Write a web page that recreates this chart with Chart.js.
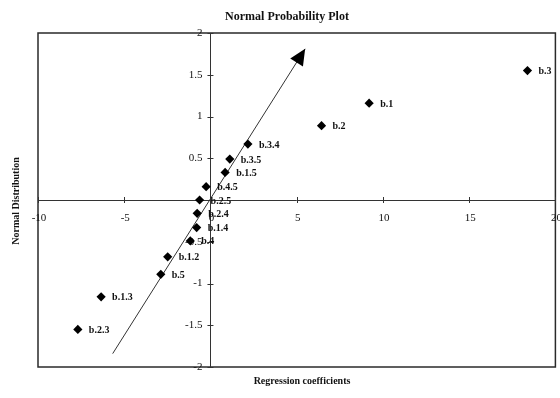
<!DOCTYPE html>
<html><head><meta charset="utf-8">
<script src="https://cdn.jsdelivr.net/npm/chart.js@4.4.1/dist/chart.umd.min.js"></script>
<style>html,body{margin:0;padding:0;background:#fff;overflow:hidden;} #wrap{width:560px;height:398px;position:relative;}</style>
</head><body><div id="wrap"><canvas id="c" width="560" height="398"></canvas></div>
<script>
const pointLabels = ['b.3','b.1','b.2','b.3.4','b.3.5','b.1.5','b.4.5','b.2.5','b.2.4','b.1.4','b.4','b.1.2','b.5','b.1.3','b.2.3'];
const coefficients = [18.38,9.20,6.44,2.17,1.12,0.85,-0.25,-0.63,-0.77,-0.80,-1.17,-2.48,-2.88,-6.34,-7.69];
const normalScores = [1.55,1.16,0.89,0.67,0.49,0.33,0.16,0,-0.16,-0.33,-0.49,-0.68,-0.89,-1.16,-1.55];
const lineX = [-5.67, 5.49];
const lineY = [-1.84, 1.81];
const xTicks = [-10,-5,0,5,10,15,20];
const yTicks = [-2,-1.5,-1,-0.5,0.5,1,1.5,2];
const titleText = 'Normal Probability Plot';
const xTitle = 'Regression coefficients';
const yTitle = 'Normal Distribution';

const FONT = "'Liberation Serif', 'Times New Roman', serif";

const pts = coefficients.map((x, i) => ({x: x, y: normalScores[i]}));
const linePts = lineX.map((x, i) => ({x: x, y: lineY[i]}));

const decor = {
  id: 'decor',
  beforeDatasetsDraw(chart) {
    const ctx = chart.ctx, a = chart.chartArea;
    const xs = chart.scales.x, ys = chart.scales.y;
    const ax = xs.getPixelForValue(0), ay = ys.getPixelForValue(0);
    ctx.save();
    // border
    ctx.strokeStyle = '#2a2a2a';
    ctx.lineWidth = 1.5;
    ctx.strokeRect(a.left, a.top, a.right - a.left, a.bottom - a.top);
    // axes
    ctx.strokeStyle = '#333';
    ctx.lineWidth = 1;
    ctx.beginPath();
    ctx.moveTo(a.left, Math.round(ay) + 0.5); ctx.lineTo(a.right, Math.round(ay) + 0.5);
    ctx.moveTo(Math.round(ax) + 0.5, a.top); ctx.lineTo(Math.round(ax) + 0.5, a.bottom);
    ctx.stroke();
    // tick marks
    ctx.beginPath();
    xTicks.forEach(v => {
      const px = Math.round(xs.getPixelForValue(v)) + 0.5;
      ctx.moveTo(px, ay - 3); ctx.lineTo(px, ay + 3);
    });
    yTicks.forEach(v => {
      const py = Math.round(ys.getPixelForValue(v)) + 0.5;
      ctx.moveTo(ax - 3, py); ctx.lineTo(ax + 3, py);
    });
    ctx.stroke();
    // tick labels
    ctx.fillStyle = '#111';
    ctx.font = '11px ' + FONT;
    ctx.textAlign = 'center';
    ctx.textBaseline = 'middle';
    xTicks.forEach(v => {
      ctx.fillText(String(v), xs.getPixelForValue(v) + 1, ay + 18);
    });
    ctx.textAlign = 'right';
    yTicks.forEach(v => {
      ctx.fillText(String(v), ax - 8, ys.getPixelForValue(v));
    });
    ctx.restore();
  },
  afterDatasetsDraw(chart) {
    const ctx = chart.ctx;
    ctx.save();
    // arrowhead at end of the fitted line
    const lm = chart.getDatasetMeta(1).data;
    const p0 = lm[0], p1 = lm[lm.length - 1];
    const dx = p1.x - p0.x, dy = p1.y - p0.y;
    const len = Math.hypot(dx, dy);
    const ux = dx / len, uy = dy / len;
    const L = 16, W = 7.5;
    const bx = p1.x - ux * L, by = p1.y - uy * L;
    ctx.fillStyle = '#000';
    ctx.beginPath();
    ctx.moveTo(p1.x, p1.y);
    ctx.lineTo(bx - uy * W, by + ux * W);
    ctx.lineTo(bx + uy * W, by - ux * W);
    ctx.closePath();
    ctx.fill();
    // point labels
    const pm = chart.getDatasetMeta(0).data;
    ctx.font = 'bold 10px ' + FONT;
    ctx.fillStyle = '#111';
    ctx.textAlign = 'left';
    ctx.textBaseline = 'middle';
    pm.forEach((el, i) => {
      ctx.fillText(pointLabels[i], el.x + 11, el.y + 1);
    });
    // titles
    ctx.textAlign = 'center';
    ctx.font = 'bold 12px ' + FONT;
    ctx.fillText(titleText, 287, 17);
    ctx.font = 'bold 10px ' + FONT;
    ctx.fillText(xTitle, 302, 381);
    ctx.translate(16, 201);
    ctx.rotate(-Math.PI / 2);
    ctx.fillText(yTitle, 0, 0);
    ctx.restore();
  }
};

new Chart(document.getElementById('c'), {
  type: 'scatter',
  data: {
    datasets: [
      {
        label: 'coefficients',
        data: pts,
        pointStyle: 'rectRot',
        pointRadius: 4.6,
        pointHoverRadius: 4.6,
        backgroundColor: '#000',
        borderColor: '#000',
        borderWidth: 0,
        showLine: false
      },
      {
        label: 'line',
        type: 'line',
        data: linePts,
        borderColor: '#333',
        borderWidth: 1,
        pointRadius: 0,
        fill: false,
        tension: 0
      }
    ]
  },
  options: {
    responsive: false,
    animation: false,
    devicePixelRatio: 1,
    layout: {padding: {left: 38, right: 2, top: 33, bottom: 31}},
    plugins: {legend: {display: false}, tooltip: {enabled: false}, title: {display: false}},
    scales: {
      x: {type: 'linear', min: -10, max: 20, display: false},
      y: {type: 'linear', min: -2, max: 2, display: false}
    }
  },
  plugins: [decor]
});
</script>
</body></html>
